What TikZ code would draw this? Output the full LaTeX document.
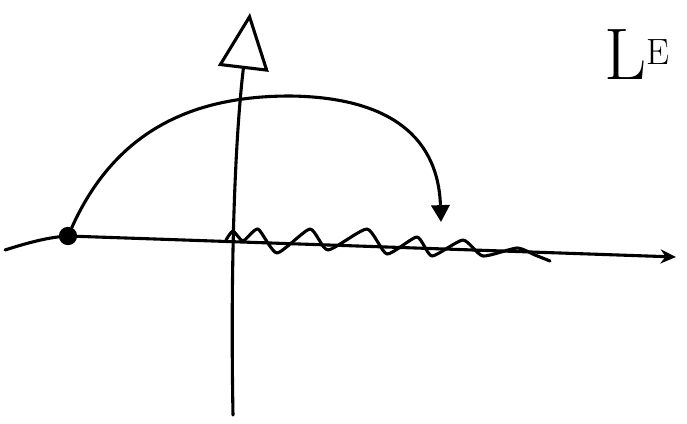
\documentclass[tikz,border=0pt]{standalone}
\usepackage{tikz}
\usetikzlibrary{arrows.meta, positioning}

\tikzset{
  pen/.style={line width=2.2pt, line cap=round, line join=round},
  axistip/.style={-{Stealth[length=11pt, width=10pt]}},
  ytip/.style={-{Triangle[open, length=40pt, width=36pt]}},
  hoptip/.style={-{Triangle[length=12pt, width=13pt]}}
}

\begin{document}
\begin{tikzpicture}[x=0.025cm, y=-0.025cm]
  \useasboundingbox (0,0) rectangle (687,423);

  % Axes
  \coordinate (xleft) at (5,250);
  \coordinate (xright) at (676,257);
  \coordinate (ybottom) at (233,415);
  \coordinate (ytop) at (250,13);
  \node[circle, fill=black, inner sep=0pt, minimum size=13pt] (start) at (68,236) {};
  \draw[pen] (xleft) .. controls (30,242) and (50,237) .. (start.center);
  \draw[pen, axistip] (start.center) -- (xright);
  \draw[pen, ytip] (ybottom) .. controls (230,250) and (236,130) .. (ytop);

  % Hop over the axis
  \coordinate (land) at (441,222);
  \draw[pen, hoptip] (start) .. controls (118,125) and (200,96) .. (290,96)
    .. controls (380,97) and (438,130) .. (land);

  % Oscillation along the axis
  \draw[pen] plot[smooth, tension=0.35] coordinates {
    (226,240) (233,231) (243,241) (258,229) (277,253) (310,229) (328,250)
    (367,229) (387,254) (417,237) (432,256) (463,240) (483,256) (517,248)
    (535,255) (550,261)};

  % Label
  \node[font=\fontsize{52}{52}\selectfont, inner sep=0pt] (label) at (637,55) {L\raisebox{0.5ex}{\fontsize{26}{26}\selectfont E}};
\end{tikzpicture}
\end{document}
